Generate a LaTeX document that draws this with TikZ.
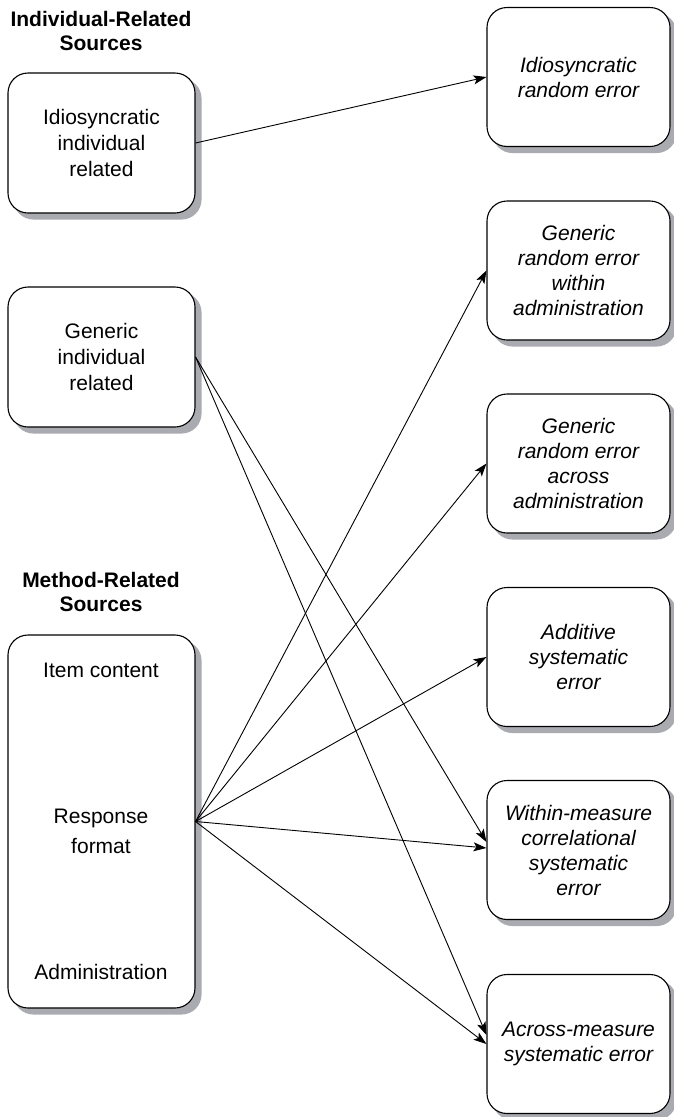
\documentclass[tikz,border=0pt]{standalone}
\usepackage{fontspec}
\setmainfont{Liberation Sans}
\usetikzlibrary{arrows.meta,backgrounds}
\definecolor{shadowgray}{RGB}{170,171,177}
\begin{document}
\begin{tikzpicture}[x=1pt,y=-1pt,
  box/.style={draw=black, line width=1.1pt, rounded corners=20pt, fill=white, align=center, inner sep=0pt,
    font=\fontsize{21}{26}\selectfont},
  lbox/.style={box, minimum width=187pt, minimum height=140pt},
  rbox/.style={box, minimum width=183pt, minimum height=139pt, font=\fontsize{21}{25}\selectfont\itshape},
  head/.style={align=center, font=\fontsize{21}{24}\selectfont\bfseries, inner sep=0pt},
  txt/.style={align=center, font=\fontsize{21}{30}\selectfont, inner sep=0pt},
  shad/.style={fill=shadowgray, rounded corners=20pt},
  arr/.style={-{Stealth[length=13pt,width=9pt,inset=3pt]}, line width=0.9pt}]
\useasboundingbox (0,0) rectangle (673,1117);

% headers
\node[head] (h1) at (101,31) {Individual-Related\\Sources};
\node[head] (h2) at (101,592) {Method-Related\\Sources};

% left boxes
\node[lbox] (b1) at (101.5,143) {Idiosyncratic\\individual\\related};
\node[lbox] (b2) at (101.5,357) {Generic\\individual\\related};
\node[box, minimum width=187pt, minimum height=373pt] (b3) at (101.5,821.5) {};
\node[txt] (t1) at (101,670) {Item content};
\node[txt] (t2) at (101,831) {Response\\format};
\node[txt] (t3) at (101,972) {Administration};

% right boxes
\node[rbox] (r1) at (578.5,77) {Idiosyncratic\\random error};
\node[rbox] (r2) at (578.5,270.5) {Generic\\random error\\within\\administration};
\node[rbox] (r3) at (578.5,463.5) {Generic\\random error\\across\\administration};
\node[rbox] (r4) at (578.5,657) {Additive\\systematic\\error};
\node[rbox] (r5) at (578.5,850) {Within-measure\\correlational\\systematic\\error};
\node[rbox] (r6) at (578.5,1044) {Across-measure\\systematic error};

% shadows
\begin{scope}[on background layer]
  \foreach \n in {b1,b2,b3,r1,r2,r3,r4,r5,r6}{
    \fill[shad] ([shift={(6pt,-6pt)}]\n.south west) rectangle ([shift={(6pt,-6pt)}]\n.north east);
  }
\end{scope}

% arrows
\draw[arr] (b1.east) -- (r1.west);
\draw[arr] (b2.east) -- ([yshift=8pt]r5.west);
\draw[arr] (b2.east) -- ([yshift=9pt]r6.west);
\draw[arr] (b3.east) -- (r2.west);
\draw[arr] (b3.east) -- (r3.west);
\draw[arr] (b3.east) -- (r4.west);
\draw[arr] (b3.east) -- ([yshift=2pt]r5.west);
\draw[arr] (b3.east) -- (r6.west);
\end{tikzpicture}
\end{document}
